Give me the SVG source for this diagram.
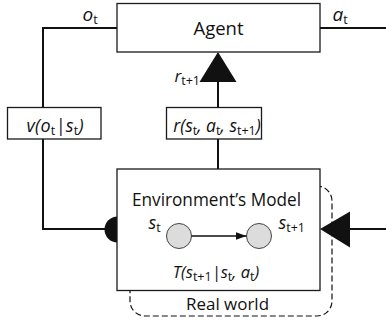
<svg xmlns="http://www.w3.org/2000/svg" width="386" height="324" viewBox="0 0 386 324">
<style>
.box{fill:#fff;stroke:#1a1a1a;stroke-width:1.3}
.ln{fill:none;stroke:#111;stroke-width:2}
.t{font-family:"Open Sans","Liberation Sans",sans-serif;fill:#111}
.i{font-style:italic}
.s{font-size:12.5px;font-style:normal}
.c{fill:#dcdcdc;stroke:#444;stroke-width:1}
</style>
<defs>
<marker id="ah" viewBox="0 0 11 8" refX="11" refY="4" markerWidth="11" markerHeight="8" markerUnits="userSpaceOnUse" orient="auto">
<path d="M0,0 L11,4 L0,8 Z" fill="#111"/>
</marker>
</defs>
<g id="real-world">
<rect x="130" y="186" width="202" height="130" rx="15" fill="none" stroke="#111" stroke-width="1.2" stroke-dasharray="6,3"/>
<text class="t" x="227.5" y="310" font-size="17" text-anchor="middle" textLength="83" lengthAdjust="spacingAndGlyphs">Real world</text>
</g>
<g id="connectors">
<path class="ln" d="M117,28 H43 V107"/>
<path class="ln" d="M43,139 V229 H117"/>
<path class="ln" d="M320,28 H386"/>
<path class="ln" d="M218,82 V107"/>
<path class="ln" d="M218,139 V169"/>
<path class="ln" d="M350,229 H386"/>
<path d="M218,52 L236.5,82 L199.5,82 Z" fill="#111"/>
<path d="M117.5,216.5 A13,13 0 0 0 117.5,242.5 Z" fill="#111"/>
</g>
<g id="agent">
<rect class="box" x="117" y="3.5" width="203" height="48.5"/>
<text class="t" x="218.5" y="35" font-size="18.5" text-anchor="middle" textLength="50" lengthAdjust="spacingAndGlyphs">Agent</text>
</g>
<text class="t i" x="82.5" y="21" font-size="19">o<tspan class="s" dy="3">t</tspan></text>
<text class="t i" x="332.5" y="21" font-size="19">a<tspan class="s" dy="3">t</tspan></text>
<text class="t i" x="174.5" y="82" font-size="17">r<tspan class="s" dy="3">t+1</tspan></text>
<g id="v-box">
<rect class="box" x="7.5" y="107.5" width="93.5" height="31.5"/>
<text class="t i" x="55" y="131.5" font-size="18" text-anchor="middle" textLength="57" lengthAdjust="spacing">v(o<tspan class="s" dy="3">t</tspan><tspan dy="-3">|s</tspan><tspan class="s" dy="3">t</tspan><tspan dy="-3">)</tspan></text>
</g>
<g id="r-box">
<rect class="box" x="166.5" y="107.5" width="95" height="31.5"/>
<text class="t i" x="217" y="131.5" font-size="17.5" text-anchor="middle">r(s<tspan class="s" dy="3">t</tspan><tspan dy="-3">, a</tspan><tspan class="s" dy="3">t</tspan><tspan dy="-3">, s</tspan><tspan class="s" dy="3">t+1</tspan><tspan dy="-3">)</tspan></text>
</g>
<g id="environment-model">
<rect class="box" x="117" y="169" width="203" height="121.5"/>
<text class="t" x="216.5" y="206" font-size="17.5" text-anchor="middle" textLength="169" lengthAdjust="spacingAndGlyphs">Environment’s Model</text>
<g id="state-st">
<circle class="c" cx="179" cy="236" r="12.5"/>
<text class="t i" x="148.5" y="229" font-size="18">s<tspan class="s" dy="3">t</tspan></text>
</g>
<g id="state-st1">
<circle class="c" cx="259" cy="236" r="12.5"/>
<text class="t i" x="278.5" y="229" font-size="18">s<tspan class="s" dy="3">t+1</tspan></text>
</g>
<path d="M191.5,236 H246.5" stroke="#111" stroke-width="1.3" marker-end="url(#ah)"/>
<text class="t i" x="216" y="278" font-size="16.5" text-anchor="middle">T(s<tspan class="s" dy="3">t+1</tspan><tspan dy="-3">|s</tspan><tspan class="s" dy="3">t</tspan><tspan dy="-3">, a</tspan><tspan class="s" dy="3">t</tspan><tspan dy="-3">)</tspan></text>
</g>
<path d="M320,229 L350,211.5 L350,247.5 Z" fill="#111"/>
</svg>
